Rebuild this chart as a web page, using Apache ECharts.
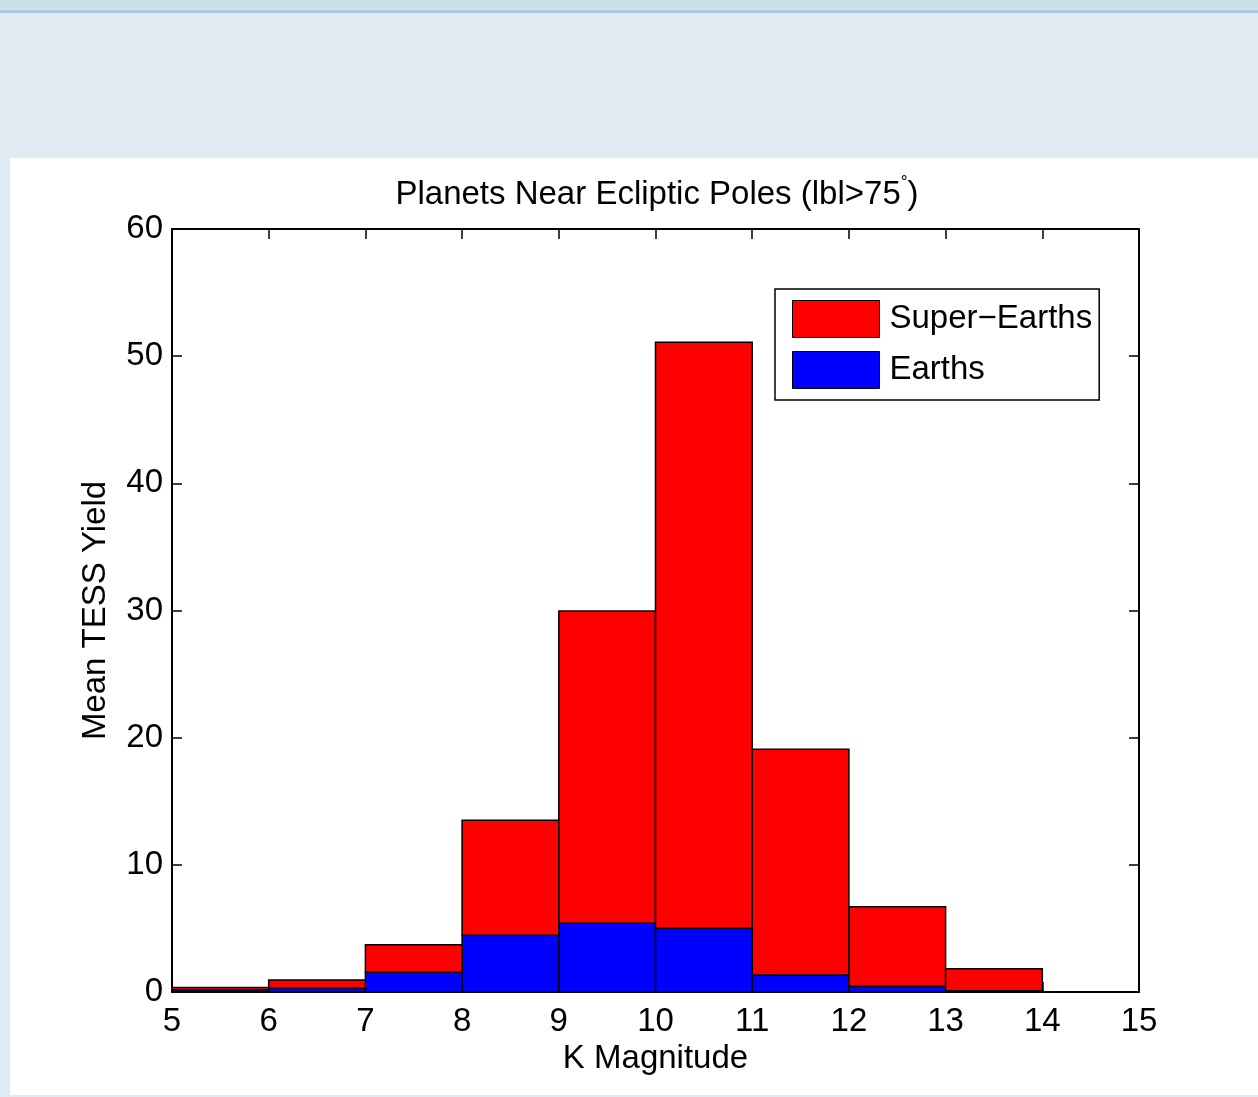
<!DOCTYPE html>
<html>
<head>
<meta charset="utf-8">
<script src="https://cdn.jsdelivr.net/npm/echarts@6/dist/echarts.min.js"></script>
<style>
html,body{margin:0;padding:0;background:#e0eaf3;}
#chart{width:1258px;height:1097px;}
</style>
</head>
<body>
<div id="chart"></div>
<script>
// Bin edges of K magnitude histogram
var binStarts = [5, 6, 7, 8, 9, 10, 11, 12, 13, 14];
var binEnds   = [6, 7, 8, 9, 10, 11, 12, 13, 14, 15];
// Mean TESS yield per bin
var earths      = [0.18, 0.29, 1.55, 4.46, 5.40, 5.01, 1.34, 0.45, 0.10, 0];
var superEarths = [0.17, 0.65, 2.17, 9.04, 24.56, 46.09, 17.74, 6.26, 1.73, 0];
var xTicks = [5, 6, 7, 8, 9, 10, 11, 12, 13, 14, 15];
var yTicks = [0, 10, 20, 30, 40, 50, 60];

var FONT = '"Liberation Sans", Arial, Helvetica, sans-serif';
var FS = 33;

function buildRects(base, vals) {
  var out = [];
  for (var i = 0; i < binStarts.length; i++) {
    if (vals[i] <= 0) continue;
    var b = base ? base[i] : 0;
    out.push([binStarts[i], binEnds[i], b, b + vals[i]]);
  }
  return out;
}

function makeRender(color) {
  return function (params, api) {
    var p0 = api.coord([api.value(0), api.value(2)]);
    var p1 = api.coord([api.value(1), api.value(3)]);
    return {
      type: 'rect',
      shape: { x: p0[0], y: p1[1], width: p1[0] - p0[0], height: p0[1] - p1[1] },
      style: { fill: color, stroke: '#000', lineWidth: 1.5 }
    };
  };
}

var chart = echarts.init(document.getElementById('chart'), null, { renderer: 'canvas' });

function axisLine() { return { show: true, onZero: false, lineStyle: { color: '#000', width: 2 } }; }
function axisTick() { return { show: true, inside: true, length: 10, lineStyle: { color: '#000', width: 1.5 } }; }

chart.setOption({
  animation: false,
  backgroundColor: 'transparent',
  textStyle: { fontFamily: FONT },
  graphic: [
    { type: 'rect', shape: { x: 0, y: 0, width: 1258, height: 10 }, style: { fill: '#cddfeb' }, z: -10 },
    { type: 'rect', shape: { x: 0, y: 10, width: 1258, height: 3 }, style: { fill: '#a9cbe1' }, z: -10 },
    { type: 'rect', shape: { x: 10, y: 158, width: 1248, height: 937 }, style: { fill: '#ffffff' }, z: -10 }
  ],
  title: {
    text: '{t|Planets Near Ecliptic Poles (lbl>75}{d|°}{t|)}',
    left: 652, textAlign: 'center', top: 169,
    textStyle: {
      fontWeight: 'normal',
      rich: {
        t: { fontFamily: FONT, fontSize: FS, fontWeight: 'normal', color: '#000' },
        d: { fontFamily: FONT, fontSize: 17, fontWeight: 'normal', color: '#000', verticalAlign: 'top', padding: [0, 0, 24, 0] }
      }
    }
  },
  grid: { left: 172, top: 229, right: 119, bottom: 105, containLabel: false },
  legend: {
    orient: 'vertical',
    left: 775, top: 289,
    padding: [11, 7, 11, 17],
    itemWidth: 87, itemHeight: 37, itemGap: 13,
    borderColor: '#000', borderWidth: 1.5,
    backgroundColor: '#fff',
    icon: 'rect',
    textStyle: { fontFamily: FONT, fontSize: FS, color: '#000', padding: [4, 0, 0, 5] },
    data: [
      { name: 'Super\u2212Earths', itemStyle: { color: '#ff0000', borderColor: '#000', borderWidth: 1 } },
      { name: 'Earths', itemStyle: { color: '#0000ff', borderColor: '#000', borderWidth: 1 } }
    ]
  },
  xAxis: [
    {
      type: 'value', min: 5, max: 15, interval: 1, position: 'bottom',
      axisLine: axisLine(), axisTick: axisTick(), splitLine: { show: false },
      name: 'K Magnitude', nameLocation: 'middle', nameGap: 50,
      nameTextStyle: { fontFamily: FONT, fontSize: FS, color: '#000' },
      axisLabel: { fontFamily: FONT, fontSize: FS, color: '#000', margin: 13 }
    },
    {
      type: 'value', min: 5, max: 15, interval: 1, position: 'top',
      axisLine: axisLine(), axisTick: axisTick(), splitLine: { show: false },
      axisLabel: { show: false }
    }
  ],
  yAxis: [
    {
      type: 'value', min: 0, max: 60, interval: 10, position: 'left',
      axisLine: axisLine(), axisTick: axisTick(), splitLine: { show: false },
      name: 'Mean TESS Yield', nameLocation: 'middle', nameGap: 60, nameRotate: 90,
      nameTextStyle: { fontFamily: FONT, fontSize: FS, color: '#000' },
      axisLabel: { fontFamily: FONT, fontSize: FS, color: '#000', margin: 9, padding: [6, 0, 0, 0] }
    },
    {
      type: 'value', min: 0, max: 60, interval: 10, position: 'right',
      axisLine: axisLine(), axisTick: axisTick(), splitLine: { show: false },
      axisLabel: { show: false }
    }
  ],
  series: [
    {
      name: 'Earths', type: 'custom', xAxisIndex: 0, yAxisIndex: 0,
      renderItem: makeRender('#0000ff'),
      itemStyle: { color: '#0000ff', borderColor: '#000', borderWidth: 1 },
      encode: { x: [0, 1], y: [2, 3] },
      data: buildRects(null, earths), z: 2
    },
    {
      name: 'Super\u2212Earths', type: 'custom', xAxisIndex: 0, yAxisIndex: 0,
      renderItem: makeRender('#ff0000'),
      itemStyle: { color: '#ff0000', borderColor: '#000', borderWidth: 1 },
      encode: { x: [0, 1], y: [2, 3] },
      data: buildRects(earths, superEarths), z: 2
    }
  ]
});
</script>
</body>
</html>
